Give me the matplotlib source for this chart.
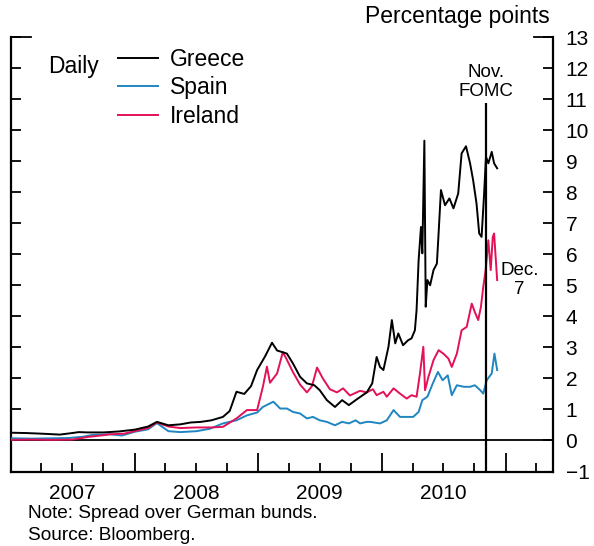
import pandas as pd
import matplotlib
matplotlib.use("Agg")
import matplotlib.pyplot as plt
import matplotlib.dates as mdates
from matplotlib.ticker import FuncFormatter, NullFormatter

plt.rcParams["font.family"] = ["Liberation Sans", "DejaVu Sans"]

# 10-year spreads over bunds, percentage points
greece_dates = [
    "2007-01-02", "2007-02-15", "2007-04-01", "2007-05-25", "2007-07-01", "2007-07-20",
    "2007-08-15", "2007-10-01", "2007-11-15", "2008-01-02", "2008-02-10", "2008-03-07",
    "2008-04-10", "2008-05-15", "2008-06-15", "2008-07-15", "2008-08-15", "2008-09-18",
    "2008-10-08", "2008-10-28", "2008-11-20", "2008-12-10", "2008-12-28", "2009-01-20",
    "2009-02-10", "2009-02-25", "2009-03-26", "2009-04-13", "2009-05-04", "2009-05-24",
    "2009-06-15", "2009-07-01", "2009-07-22", "2009-08-15", "2009-09-05", "2009-09-25",
    "2009-10-15", "2009-10-28", "2009-11-17", "2009-12-03", "2009-12-16", "2009-12-26",
    "2010-01-05", "2010-01-20", "2010-01-30", "2010-02-09", "2010-02-18", "2010-03-04",
    "2010-03-19", "2010-03-29", "2010-04-08", "2010-04-13", "2010-04-19", "2010-04-26",
    "2010-04-30", "2010-05-06", "2010-05-10", "2010-05-15", "2010-05-23", "2010-06-02",
    "2010-06-12", "2010-06-17", "2010-06-24", "2010-07-06", "2010-07-19", "2010-07-31",
    "2010-08-14", "2010-08-24", "2010-09-06", "2010-09-18", "2010-09-27", "2010-10-07",
    "2010-10-15", "2010-10-22", "2010-10-29", "2010-11-04", "2010-11-11", "2010-11-21",
    "2010-11-28", "2010-12-07",
]
greece = [
    0.25, 0.24, 0.22, 0.19, 0.24, 0.27,
    0.26, 0.26, 0.29, 0.35, 0.45, 0.60,
    0.49, 0.52, 0.58, 0.60, 0.65, 0.76,
    0.95, 1.57, 1.50, 1.75, 2.27, 2.70,
    3.15, 2.90, 2.80, 2.48, 2.05, 1.84,
    1.78, 1.62, 1.30, 1.08, 1.30, 1.14,
    1.30, 1.40, 1.55, 1.84, 2.69, 2.37,
    2.27, 3.02, 3.88, 3.13, 3.45, 3.07,
    3.23, 3.29, 3.55, 4.20, 5.80, 6.88,
    6.03, 9.66, 4.31, 5.17, 5.00, 5.49,
    5.70, 6.67, 8.07, 7.58, 7.80, 7.48,
    7.96, 9.25, 9.48, 8.93, 8.39, 7.64,
    6.67, 6.56, 7.85, 9.14, 8.93, 9.30,
    8.93, 8.77,
]

spain_dates = [
    "2007-01-02", "2007-03-01", "2007-05-01", "2007-06-20", "2007-08-01", "2007-08-30",
    "2007-10-20", "2007-11-25", "2008-01-01", "2008-02-10", "2008-03-07", "2008-04-10",
    "2008-05-15", "2008-07-02", "2008-08-11", "2008-09-18", "2008-10-28", "2008-11-28",
    "2008-12-28", "2009-01-14", "2009-02-14", "2009-03-06", "2009-03-26", "2009-04-13",
    "2009-05-04", "2009-05-24", "2009-06-11", "2009-07-01", "2009-07-22", "2009-08-15",
    "2009-09-05", "2009-09-25", "2009-10-15", "2009-10-28", "2009-11-17", "2009-11-27",
    "2009-12-26", "2010-01-15", "2010-02-04", "2010-02-23", "2010-03-15", "2010-04-03",
    "2010-04-19", "2010-04-30", "2010-05-15", "2010-05-31", "2010-06-15", "2010-06-29",
    "2010-07-14", "2010-07-26", "2010-08-10", "2010-08-31", "2010-09-18", "2010-10-02",
    "2010-10-18", "2010-10-27", "2010-11-06", "2010-11-21", "2010-11-29", "2010-12-07",
]
spain = [
    0.07, 0.06, 0.07, 0.08, 0.12, 0.18,
    0.20, 0.16, 0.28, 0.36, 0.56, 0.30,
    0.27, 0.30, 0.38, 0.55, 0.65, 0.81,
    0.90, 1.08, 1.25, 1.03, 1.03, 0.92,
    0.87, 0.71, 0.76, 0.65, 0.60, 0.49,
    0.60, 0.55, 0.65, 0.55, 0.60, 0.60,
    0.55, 0.65, 0.98, 0.76, 0.76, 0.76,
    0.92, 1.30, 1.41, 1.84, 2.21, 1.94,
    2.10, 1.46, 1.78, 1.73, 1.73, 1.78,
    1.62, 1.51, 1.94, 2.16, 2.80, 2.27,
]

ireland_dates = [
    "2007-01-02", "2007-03-01", "2007-05-01", "2007-07-01", "2007-08-20", "2007-10-01",
    "2007-10-20", "2007-12-01", "2008-01-01", "2008-02-10", "2008-03-07", "2008-04-10",
    "2008-05-15", "2008-07-01", "2008-08-15", "2008-09-18", "2008-10-28", "2008-11-28",
    "2008-12-28", "2009-01-14", "2009-01-26", "2009-02-04", "2009-02-25", "2009-03-14",
    "2009-03-26", "2009-04-13", "2009-05-04", "2009-05-24", "2009-06-08", "2009-06-23",
    "2009-07-10", "2009-07-31", "2009-08-21", "2009-09-08", "2009-09-28", "2009-10-28",
    "2009-11-17", "2009-12-05", "2009-12-16", "2010-01-05", "2010-01-15", "2010-02-04",
    "2010-02-23", "2010-03-15", "2010-03-29", "2010-04-13", "2010-04-23", "2010-05-03",
    "2010-05-08", "2010-05-18", "2010-06-02", "2010-06-17", "2010-07-01", "2010-07-16",
    "2010-07-26", "2010-08-10", "2010-08-24", "2010-09-08", "2010-09-23", "2010-10-02",
    "2010-10-12", "2010-10-20", "2010-10-27", "2010-11-03", "2010-11-11", "2010-11-18",
    "2010-11-24", "2010-11-28", "2010-12-07",
]
ireland = [
    0.02, 0.03, 0.02, 0.03, 0.12, 0.17,
    0.20, 0.22, 0.30, 0.40, 0.58, 0.45,
    0.40, 0.42, 0.42, 0.44, 0.71, 0.98,
    0.98, 1.73, 2.38, 1.86, 2.16, 2.85,
    2.60, 2.20, 1.80, 1.55, 1.75, 2.35,
    2.00, 1.65, 1.55, 1.68, 1.45, 1.60,
    1.55, 1.65, 1.46, 1.57, 1.41, 1.68,
    1.51, 1.35, 1.46, 1.41, 2.16, 3.02,
    1.62, 2.05, 2.59, 2.91, 2.80, 2.64,
    2.37, 2.80, 3.55, 3.66, 4.41, 4.14,
    3.88, 4.30, 4.95, 5.49, 6.45, 5.49,
    6.56, 6.67, 5.17,
]

fomc_date = pd.Timestamp("2010-11-03")
year_labels = [2007, 2008, 2009, 2010]

greece_dates = pd.to_datetime(greece_dates)
spain_dates = pd.to_datetime(spain_dates)
ireland_dates = pd.to_datetime(ireland_dates)

fig = plt.figure(figsize=(5.94, 5.46), dpi=100)
ax = fig.add_axes([0.0185, 0.1364, 0.9125, 0.7958])

ax.plot(greece_dates, greece, color="black", lw=1.4, label="Greece", zorder=4)
ax.plot(spain_dates, spain, color="#1f86c1", lw=1.4, label="Spain", zorder=3)
ax.plot(ireland_dates, ireland, color="#e3105a", lw=1.4, label="Ireland", zorder=3)

ax.axhline(0, color="black", lw=1.3, zorder=2)
ax.vlines(fomc_date, -1, 10.87, color="black", lw=1.6, zorder=5)

ax.set_xlim(pd.Timestamp("2007-01-01"), pd.Timestamp("2011-05-21"))
ax.set_ylim(-1, 13)

for side in ["left", "right", "bottom"]:
    ax.spines[side].set_linewidth(1.6)
ax.spines["top"].set_visible(False)

# x axis: long ticks at year starts, short ones each quarter, year names mid-year
ax.xaxis.set_major_locator(mdates.YearLocator())
ax.xaxis.set_major_formatter(NullFormatter())
ax.xaxis.set_minor_locator(mdates.MonthLocator(bymonth=[4, 7, 10]))


def year_name(x, pos):
    d = mdates.num2date(x)
    if d.month == 7 and d.year in year_labels:
        return str(d.year)
    return ""


ax.xaxis.set_minor_formatter(FuncFormatter(year_name))
ax.tick_params(axis="x", which="major", direction="in", length=13.5, width=1.3)
ax.tick_params(axis="x", which="minor", direction="in", length=6.5, width=1.3,
               labelsize=15, pad=9)

ax.set_yticks(range(-1, 14))
ax.tick_params(axis="y", direction="in", length=7, width=1.3, left=True, right=True,
               labelleft=False, labelright=True, labelsize=15, pad=9)

# longer marks at the top of both vertical axes
ytrans = ax.get_yaxis_transform()
ax.plot([0, 0.036], [13, 13], transform=ytrans, color="black", lw=1.3, clip_on=False)
ax.plot([0.964, 1], [13, 13], transform=ytrans, color="black", lw=1.3, clip_on=False)

ax.legend(loc="upper left", bbox_to_anchor=(0.198, 0.975), frameon=False, fontsize=16.5,
          handlelength=1.75, handletextpad=0.5, labelspacing=0.24, borderpad=0,
          borderaxespad=0)
ax.text(0.068, 0.933, "Daily", transform=ax.transAxes, fontsize=16.5, va="center")

ax.annotate("Nov.\nFOMC", xy=(fomc_date, 10.87), xytext=(0, 2), textcoords="offset points",
            ha="center", va="bottom", fontsize=13.5, linespacing=1.2)
ax.annotate("Dec.\n7", xy=(ireland_dates[-1], ireland[-1]), xytext=(16, 0),
            textcoords="offset points", ha="center", va="center", fontsize=13.5,
            linespacing=1.2)

fig.text(550 / 594, 1 - 16 / 546, "Percentage points", ha="right", va="center", fontsize=16.5)
fig.text(28 / 594, 1 - 514 / 546, "Note: Spread over German bunds.", va="center", fontsize=13.7)
fig.text(28 / 594, 1 - 536 / 546, "Source: Bloomberg.", va="center", fontsize=13.7)

fig.savefig("out.png", dpi=100)
